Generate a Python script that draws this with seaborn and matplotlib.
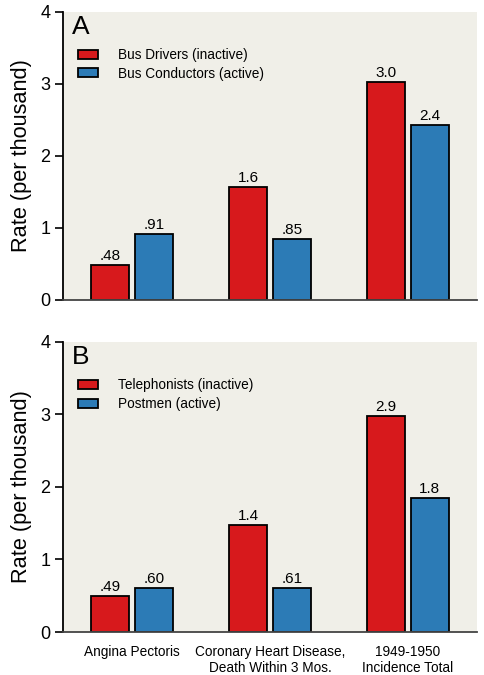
import pandas as pd
import matplotlib.pyplot as plt
import seaborn as sns
import numpy as np

sns.set_style('white')
plt.rcParams['font.family'] = ['Liberation Sans', 'DejaVu Sans']
plt.rcParams.update({'text.color': 'black', 'axes.labelcolor': 'black',
                     'xtick.color': 'black', 'ytick.color': 'black'})

# categories along the x axis
categories = ['Angina Pectoris', 'Coronary Heart Disease,\nDeath Within 3 Mos.', '1949-1950\nIncidence Total']

# panel A: London busmen
bus_groups = ['Bus Drivers (inactive)', 'Bus Conductors (active)']
bus_drivers = [0.48, 1.57, 3.03]
bus_conductors = [0.91, 0.85, 2.43]
bus_drivers_lbl = ['.48', '1.6', '3.0']
bus_conductors_lbl = ['.91', '.85', '2.4']

# panel B: post office workers
post_groups = ['Telephonists (inactive)', 'Postmen (active)']
telephonists = [0.50, 1.48, 2.98]
postmen = [0.60, 0.61, 1.85]
telephonists_lbl = ['.49', '1.4', '2.9']
postmen_lbl = ['.60', '.61', '1.8']

red = '#d7191c'
blue = '#2c7bb6'
bg = '#f0efe8'

fig = plt.figure(figsize=(4.85, 6.75), dpi=100)
axA = fig.add_axes([0.13, 0.5556, 0.8535, 0.4267])
axB = fig.add_axes([0.13, 0.0637, 0.8535, 0.4297])


def draw_panel(ax, letter, groups, v1, v2, l1, l2, show_x):
    df = pd.DataFrame({
        'category': categories * 2,
        'group': [groups[0]] * 3 + [groups[1]] * 3,
        'rate': v1 + v2,
    })
    sns.barplot(data=df, x='category', y='rate', hue='group', order=categories,
                hue_order=groups, palette=[red, blue], edgecolor='black',
                linewidth=1.3, width=0.63, gap=0.13, saturation=1, ax=ax)
    for cont, labels in zip(ax.containers, [l1, l2]):
        ax.bar_label(cont, labels=labels, padding=1.5, fontsize=11)
    ax.set_facecolor(bg)
    ax.set_xlim(-0.5, 2.5)
    ax.set_ylim(0, 4)
    ax.set_yticks([0, 1, 2, 3, 4])
    ax.tick_params(axis='y', left=True, length=6, width=1.2, labelsize=13, pad=3)
    ax.tick_params(axis='x', bottom=False, labelsize=9.8, pad=6)
    for s in ['top', 'right']:
        ax.spines[s].set_visible(False)
    ax.spines['left'].set_color('black')
    ax.spines['left'].set_linewidth(1.3)
    ax.spines['bottom'].set_color('#444444')
    ax.spines['bottom'].set_linewidth(1.3)
    ax.set_xlabel('')
    ax.set_ylabel('Rate (per thousand)', fontsize=15.7, labelpad=6)
    if not show_x:
        ax.set_xticklabels([])
    ax.text(0.022, 0.99, letter, transform=ax.transAxes, fontsize=19, va='top', ha='left')
    ax.legend(loc='upper left', bbox_to_anchor=(0.036, 0.875), frameon=False,
              fontsize=9.8, handlelength=1.45, handleheight=0.65, handletextpad=1.5,
              labelspacing=0.35, borderpad=0, borderaxespad=0, title=None)


draw_panel(axA, 'A', bus_groups, bus_drivers, bus_conductors, bus_drivers_lbl, bus_conductors_lbl, False)
draw_panel(axB, 'B', post_groups, telephonists, postmen, telephonists_lbl, postmen_lbl, True)

fig.savefig('out.png', dpi=100)
